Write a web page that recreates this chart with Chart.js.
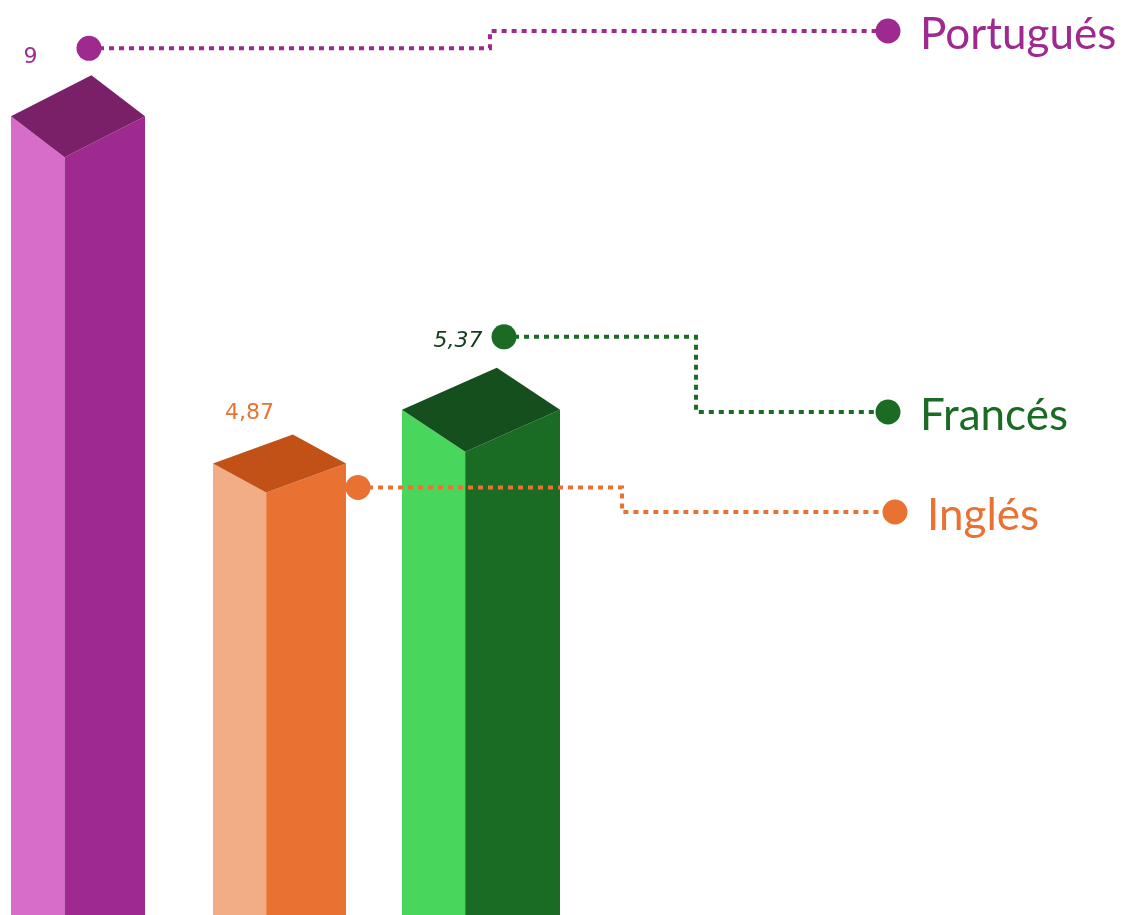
<!DOCTYPE html>
<html>
<head>
<meta charset="utf-8">
<script src="https://cdn.jsdelivr.net/npm/chart.js@4.4.1/dist/chart.umd.min.js"></script>
<style>
  html, body { margin: 0; padding: 0; background: #ffffff; overflow: hidden; }
  canvas { display: block; }
</style>
</head>
<body>
<canvas id="c" width="1124" height="915"></canvas>
<script>
// ---- data ----
const categories = ['Portugués', 'Inglés', 'Francés'];
const values = [9, 4.87, 5.37];
const valueLabels = ['9', '4,87', '5,37'];

// ---- styles ----
const leftFaceColors  = ['#D76DC9', '#F2AC86', '#48D65C'];
const rightFaceColors = ['#9E2A8F', '#E97232', '#1A6B23'];
const topFaceColors   = ['#7A2069', '#C15116', '#144F1D'];
const accentColors    = ['#9E2A8F', '#E97232', '#1A6B23'];
const valueColors     = ['#9E2A8F', '#E97232', '#163D1C'];
const valueFonts      = ['22px "DejaVu Sans", sans-serif',
                         '22px "DejaVu Sans", sans-serif',
                         'italic 22px "DejaVu Sans", sans-serif'];
const barWidths  = [134, 133, 158];
const topDepths  = [41, 29, 42];
const frontRatio = 0.4;
// annotation offsets relative to bar anchor (center x, value y)
const dotOffsets   = [[11, -109], [78.5, -5], [23, -115]];
const valueOffsets = [[-47.5, -94], [-30, -73], [-23, -105]];
const elbowX  = [490, 622, 696];
const endY    = [31, 512, 412];
const endX    = [888, 895, 888];
const labelX  = [920, 927, 920];

const prismPlugin = {
  id: 'prisms',
  afterDatasetsDraw(chart) {
    const ctx = chart.ctx;
    const meta = chart.getDatasetMeta(0);
    const bottom = chart.height;
    meta.data.forEach((el, i) => {
      const w = barWidths[i], d = topDepths[i];
      const left = el.x - w / 2, right = el.x + w / 2;
      const fx = left + w * frontRatio, fy = el.y;
      ctx.save();
      ctx.fillStyle = leftFaceColors[i];
      ctx.beginPath();
      ctx.moveTo(left, fy - d); ctx.lineTo(fx, fy); ctx.lineTo(fx, bottom); ctx.lineTo(left, bottom);
      ctx.closePath(); ctx.fill();
      ctx.fillStyle = rightFaceColors[i];
      ctx.beginPath();
      ctx.moveTo(fx, fy); ctx.lineTo(right, fy - d); ctx.lineTo(right, bottom); ctx.lineTo(fx, bottom);
      ctx.closePath(); ctx.fill();
      ctx.fillStyle = topFaceColors[i];
      ctx.beginPath();
      ctx.moveTo(left, fy - d);
      ctx.lineTo(left + w * (1 - frontRatio), fy - 2 * d);
      ctx.lineTo(right, fy - d);
      ctx.lineTo(fx, fy);
      ctx.closePath(); ctx.fill();
      ctx.restore();
    });
  },
  afterDraw(chart) {
    const ctx = chart.ctx;
    const meta = chart.getDatasetMeta(0);
    meta.data.forEach((el, i) => {
      const col = accentColors[i];
      const sx = el.x + dotOffsets[i][0], sy = el.y + dotOffsets[i][1];
      ctx.save();
      ctx.strokeStyle = col;
      ctx.lineWidth = 4;
      ctx.setLineDash([5, 5]);
      ctx.beginPath();
      ctx.moveTo(sx, sy);
      ctx.lineTo(elbowX[i], sy);
      ctx.lineTo(elbowX[i], endY[i]);
      ctx.lineTo(endX[i], endY[i]);
      ctx.stroke();
      ctx.setLineDash([]);
      ctx.fillStyle = col;
      ctx.beginPath(); ctx.arc(sx, sy, 12.5, 0, Math.PI * 2); ctx.fill();
      ctx.beginPath(); ctx.arc(endX[i], endY[i], 12.5, 0, Math.PI * 2); ctx.fill();
      ctx.font = '44px Lato, "Open Sans", sans-serif';
      ctx.textAlign = 'left';
      ctx.textBaseline = 'alphabetic';
      ctx.fillText(categories[i], labelX[i], endY[i] + 18);
      ctx.fillStyle = valueColors[i];
      ctx.font = valueFonts[i];
      ctx.textAlign = 'center';
      ctx.textBaseline = 'alphabetic';
      ctx.fillText(valueLabels[i], el.x + valueOffsets[i][0], el.y + valueOffsets[i][1]);
      ctx.restore();
    });
  }
};

new Chart(document.getElementById('c'), {
  type: 'bar',
  data: {
    labels: categories,
    datasets: [{
      data: values,
      backgroundColor: 'rgba(0,0,0,0)',
      borderWidth: 0
    }]
  },
  options: {
    responsive: false,
    animation: false,
    devicePixelRatio: 1,
    layout: { padding: { left: 78, right: 643, top: 0, bottom: 0 } },
    plugins: { legend: { display: false }, tooltip: { enabled: false } },
    scales: {
      x: { display: false, offset: false },
      y: { display: false, min: -0.34, max: 10.94 }
    }
  },
  plugins: [prismPlugin]
});
</script>
</body>
</html>
